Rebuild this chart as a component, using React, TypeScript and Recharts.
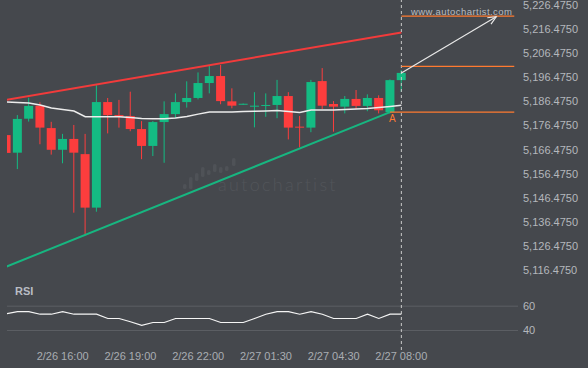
import { ComposedChart, Bar, Line, XAxis, YAxis, ReferenceLine, ReferenceDot } from "recharts";

// 30 minute candles, 2/26 13:30 -> 2/27 08:00 (session breaks skipped)
const times = [
    "2/26 13:30", "2/26 14:00", "2/26 14:30", "2/26 15:00", "2/26 15:30", "2/26 16:00",
    "2/26 16:30", "2/26 17:00", "2/26 17:30", "2/26 18:00", "2/26 18:30", "2/26 19:00",
    "2/26 19:30", "2/26 20:00", "2/26 20:30", "2/26 21:00", "2/26 21:30", "2/26 22:00",
    "2/26 22:30", "2/26 23:00", "2/27 00:00", "2/27 00:30", "2/27 01:00", "2/27 01:30",
    "2/27 02:00", "2/27 02:30", "2/27 03:00", "2/27 03:30", "2/27 04:00", "2/27 04:30",
    "2/27 05:00", "2/27 05:30", "2/27 06:00", "2/27 06:30", "2/27 07:00", "2/27 08:00",
];
const tickIdx = [5, 11, 17, 23, 29, 35];

const opens = [
    5172.5, 5165.2, 5179.3, 5184.7, 5175.4, 5166.4, 5170.9, 5164.6, 5142.4, 5186.2, 5180.8, 5180.4,
    5175.0, 5168.0, 5177.9, 5181.2, 5186.2, 5187.9, 5194.1, 5197.0, 5186.5, 5185.2, 5184.4, 5184.7,
    5185.0, 5188.7, 5176.0, 5175.6, 5194.9, 5185.4, 5184.3, 5187.5, 5184.6, 5187.9, 5182.0, 5195.3,
];
const highs = [
    5173.0, 5180.8, 5188.0, 5186.1, 5178.0, 5173.0, 5176.7, 5173.0, 5193.2, 5187.9, 5187.1, 5190.5,
    5178.3, 5178.3, 5186.5, 5189.8, 5194.8, 5198.5, 5201.2, 5201.6, 5191.9, 5185.6, 5190.3, 5189.8,
    5195.4, 5190.3, 5180.4, 5195.4, 5200.3, 5186.6, 5188.7, 5191.2, 5189.4, 5189.0, 5195.6, 5199.5,
];
const lows = [
    5164.6, 5158.4, 5178.1, 5168.7, 5164.4, 5160.8, 5140.3, 5131.2, 5140.7, 5173.2, 5175.6, 5174.1,
    5162.5, 5163.8, 5161.0, 5179.6, 5183.9, 5187.3, 5189.8, 5185.3, 5183.6, 5185.1, 5175.7, 5180.1,
    5179.5, 5170.7, 5167.4, 5173.7, 5183.3, 5173.9, 5181.5, 5183.3, 5182.4, 5181.5, 5181.5, 5190.5,
];
const closes = [
    5165.1, 5179.2, 5184.6, 5175.6, 5166.4, 5170.9, 5165.2, 5142.4, 5186.2, 5180.8, 5180.1, 5175.0,
    5168.0, 5177.9, 5181.2, 5186.2, 5187.9, 5194.1, 5197.0, 5186.6, 5184.7, 5185.5, 5184.7, 5185.0,
    5188.7, 5175.6, 5175.7, 5194.5, 5184.7, 5184.3, 5187.5, 5184.6, 5187.9, 5182.8, 5195.3, 5198.3,
];
const ma = [
    5186.2, 5186.0, 5185.8, 5185.0, 5183.7, 5183.1, 5182.5, 5180.1, 5180.1, 5180.1, 5180.1, 5179.8,
    5179.4, 5179.3, 5179.3, 5179.6, 5180.2, 5181.2, 5182.1, 5182.1, 5182.1, 5182.3, 5182.4, 5182.5,
    5182.7, 5182.3, 5181.9, 5182.9, 5182.9, 5182.9, 5183.1, 5183.3, 5183.5, 5183.9, 5184.4, 5184.9,
];
const rsi = [
    53.7, 55.6, 55.6, 53.4, 53.4, 55.6, 53.4, 53.4, 53.4, 49.9, 49.9, 47.2,
    44.2, 46.6, 46.6, 49.9, 49.9, 49.9, 49.9, 46.6, 46.6, 46.6, 49.9, 53.4,
    55.6, 55.6, 53.4, 55.6, 53.4, 49.9, 49.9, 49.9, 53.4, 49.9, 53.4, 53.4,
];

const resistance = [{ i: 0, v: 5187.1 }, { i: 35, v: 5215.1 }];
const support = [{ i: 0, v: 5117.9 }, { i: 34, v: 5182.0 }];
const targetLevels = [5221.9, 5201.0, 5182.0];
const targetFrom = [35, 35, 34];
const targetTo = 45;
const forecast = [{ i: 35, v: 5198.3 }, { i: 43.4, v: 5221.6 }];

const priceTicks = [5116.475, 5126.475, 5136.475, 5146.475, 5156.475, 5166.475, 5176.475, 5186.475, 5196.475, 5206.475, 5216.475, 5226.475];

const data = times.map((t, i) => ({
    i,
    time: t,
    open: opens[i],
    high: highs[i],
    low: lows[i],
    close: closes[i],
    ma: ma[i],
    rsi: rsi[i],
}));

const BG = "#45484d";
const GREEN = "#14bb83";
const RED = "#fd3d3d";
const ORANGE = "#ff7a30";
const AXIS_TEXT = "#b4b7bc";
const X_DOMAIN = [0.07, 45.33];

const Candle = (props: any) => {
    const { x, y, width, height, payload } = props;
    const { open, close, high, low } = payload;
    const color = close >= open ? GREEN : RED;
    const ratio = high === low ? 0 : height / (high - low);
    const top = y + (high - Math.max(open, close)) * ratio;
    const bodyH = Math.max(1, Math.abs(open - close) * ratio);
    const cx = x + width / 2;
    return (
        <g>
            <line x1={cx} x2={cx} y1={y} y2={y + height} stroke={color} strokeWidth={1} />
            <rect x={x} y={top} width={width} height={bodyH} fill={color} />
        </g>
    );
};

const Arrow = (p: any) => {
    const { x1, y1, x2, y2 } = p;
    const ang = Math.atan2(y2 - y1, x2 - x1);
    const h = 9;
    const a1 = ang + Math.PI - 0.42;
    const a2 = ang + Math.PI + 0.42;
    return (
        <g>
            <line x1={x1} y1={y1} x2={x2} y2={y2} stroke="#e8e8e8" strokeWidth={1.2} />
            <polyline
                points={`${x2 + h * Math.cos(a1)},${y2 + h * Math.sin(a1)} ${x2},${y2} ${x2 + h * Math.cos(a2)},${y2 + h * Math.sin(a2)}`}
                fill="none"
                stroke="#e8e8e8"
                strokeWidth={1.2}
            />
        </g>
    );
};

const logoBars = [
    [183, 184, 5], [189, 177, 12], [195, 173, 8], [201, 167, 10], [207, 170, 5],
    [213, 164, 8], [219, 167, 6], [225, 166, 5], [232, 158, 8],
];

const fmtPrice = (v: number) => v.toLocaleString("en-US", { minimumFractionDigits: 4, maximumFractionDigits: 4 });

export default function App() {
    return (
        <div style={{ position: "relative", width: 588, height: 368, background: BG, fontFamily: "'Liberation Sans', Arial, sans-serif", overflow: "hidden" }}>
            <style>{`body{margin:0;background:${BG}}`}</style>

            {/* watermark */}
            <svg width={588} height={368} style={{ position: "absolute", left: 0, top: 0 }}>
                {logoBars.map(([x, y, h], k) => (
                    <rect key={k} x={x} y={y} width={3.5} height={h} rx={1.5} fill="#4f5257" />
                ))}
            </svg>
            <div style={{ position: "absolute", left: 218, top: 173, fontFamily: "Lato, sans-serif", fontWeight: 300, fontSize: 18, letterSpacing: 2.3, color: "#52555a" }}>
                autochartist
            </div>

            <div style={{ position: "absolute", left: 0, top: 0 }}>
                <ComposedChart width={588} height={290} data={data} margin={{ top: 0, right: 0, bottom: 0, left: 7 }}>
                    <XAxis dataKey="i" type="number" domain={X_DOMAIN} allowDataOverflow hide />
                    <YAxis
                        orientation="right"
                        width={70}
                        type="number"
                        domain={[5108.22, 5228.55]}
                        allowDataOverflow
                        ticks={priceTicks}
                        tickFormatter={fmtPrice}
                        axisLine={false}
                        tickLine={false}
                        tickSize={0}
                        tickMargin={5}
                        tick={{ fill: AXIS_TEXT, fontSize: 11 }}
                        interval={0}
                    />
                    <Line data={resistance} dataKey="v" stroke="#f23b3b" strokeWidth={2} dot={false} isAnimationActive={false} />
                    <Line data={support} dataKey="v" stroke="#17b680" strokeWidth={2} dot={false} isAnimationActive={false} />
                    <Bar dataKey={(d: any) => [d.low, d.high]} barSize={9} shape={Candle} isAnimationActive={false} />
                    <Line dataKey="ma" stroke="#ececec" strokeWidth={1.5} dot={false} isAnimationActive={false} />
                    <ReferenceLine x={35} stroke="#c9c9c9" strokeDasharray="3 3" />
                    {targetLevels.map((lv, k) => (
                        <ReferenceLine key={k} segment={[{ x: targetFrom[k], y: lv }, { x: targetTo, y: lv }]} stroke={ORANGE} strokeWidth={1.2} />
                    ))}
                    <ReferenceLine segment={[{ x: forecast[0].i, y: forecast[0].v }, { x: forecast[1].i, y: forecast[1].v }]} shape={Arrow} />
                    <ReferenceDot x={34.2} y={targetLevels[2]} r={0} stroke="none" label={{ value: "A", position: "bottom", fill: ORANGE, fontSize: 10, offset: 3 }} />
                </ComposedChart>
            </div>

            <div style={{ position: "absolute", left: 0, top: 290 }}>
                <ComposedChart width={588} height={78} data={data} margin={{ top: 0, right: 0, bottom: 0, left: 7 }}>
                    <XAxis
                        dataKey="i"
                        type="number"
                        domain={X_DOMAIN}
                        allowDataOverflow
                        ticks={tickIdx}
                        tickFormatter={(i: number) => times[i]}
                        axisLine={false}
                        tickLine={false}
                        tickSize={0}
                        tickMargin={2}
                        height={18}
                        interval={0}
                        tick={{ fill: "#a9adb2", fontSize: 11 }}
                    />
                    <YAxis
                        orientation="right"
                        width={70}
                        type="number"
                        domain={[24, 73.3]}
                        allowDataOverflow
                        ticks={[40, 60]}
                        axisLine={false}
                        tickLine={false}
                        tickSize={0}
                        tickMargin={5}
                        tick={{ fill: AXIS_TEXT, fontSize: 11 }}
                    />
                    <ReferenceLine y={60} stroke="#5c5f64" />
                    <ReferenceLine y={40} stroke="#5c5f64" />
                    <ReferenceLine x={35} stroke="#c9c9c9" strokeDasharray="3 3" />
                    <Line dataKey="rsi" stroke="#f5f5f5" strokeWidth={1.2} dot={false} isAnimationActive={false} />
                </ComposedChart>
            </div>

            <div style={{ position: "absolute", left: 15, top: 285, fontSize: 11, fontWeight: 700, color: "#b9bdc4" }}>RSI</div>
            <div style={{ position: "absolute", left: 411, top: 6, fontSize: 9.5, letterSpacing: 0.45, color: "#b9bcc0" }}>www.autochartist.com</div>
        </div>
    );
}
